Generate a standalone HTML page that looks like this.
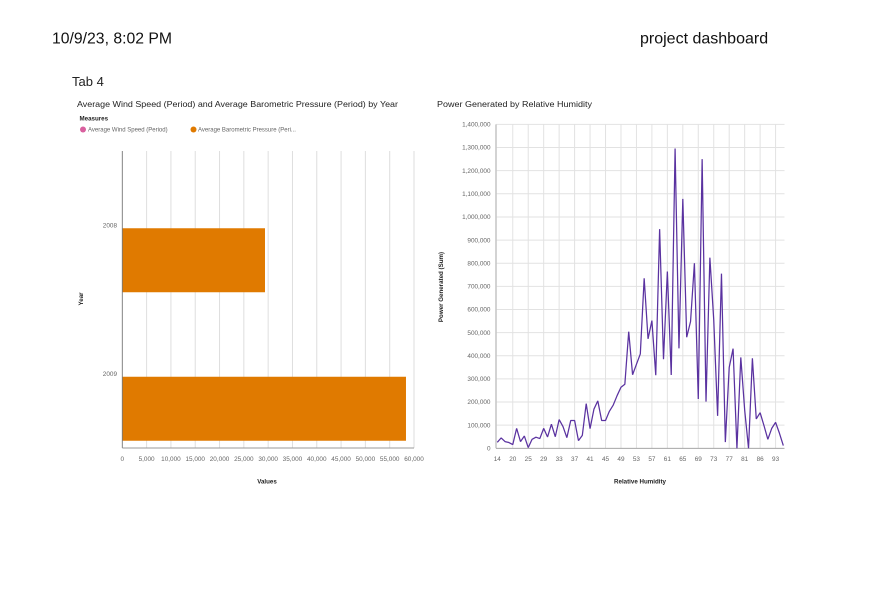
<!DOCTYPE html>
<html lang="en">
<head>
<meta charset="utf-8">
<title>project dashboard</title>
<style>
html,body{margin:0;padding:0;background:#fff;width:880px;height:609px;overflow:hidden}
svg{display:block;position:absolute;left:0;top:0}
text{font-family:"Liberation Sans",sans-serif}
.tick{font-size:6.4px;fill:#666}
.atitle{font-size:6.2px;fill:#222;font-weight:bold}
.ctitle{font-size:8.6px;fill:#222}
.leg{font-size:6px;fill:#666}
</style>
</head>
<body>
<svg id="page" width="880" height="609" viewBox="0 0 880 609" xmlns="http://www.w3.org/2000/svg">
  <text x="52" y="43.5" font-size="16" fill="#111" textLength="120" lengthAdjust="spacingAndGlyphs">10/9/23, 8:02 PM</text>
  <text x="640" y="43.5" font-size="16" fill="#111">project dashboard</text>
  <text x="72" y="86" font-size="13" fill="#222">Tab 4</text>

  <text class="ctitle" x="77" y="107" textLength="321" lengthAdjust="spacingAndGlyphs">Average Wind Speed (Period) and Average Barometric Pressure (Period) by Year</text>
  <text class="atitle" x="79.5" y="120.5">Measures</text>
  <circle cx="83" cy="129.5" r="3" fill="#d9609f"/>
  <text class="leg" x="88" y="131.7">Average Wind Speed (Period)</text>
  <circle cx="193.5" cy="129.5" r="3" fill="#e07a00"/>
  <text class="leg" x="198" y="131.7">Average Barometric Pressure (Peri...</text>
  <g id="bar-chart"></g>
  <text class="atitle" transform="translate(83,299) rotate(-90)" text-anchor="middle">Year</text>
  <text class="atitle" x="267" y="483.5" text-anchor="middle">Values</text>

  <text class="ctitle" x="437" y="107" textLength="155" lengthAdjust="spacingAndGlyphs">Power Generated by Relative Humidity</text>
  <g id="line-chart"></g>
  <text class="atitle" transform="translate(443,287) rotate(-90)" text-anchor="middle">Power Generated (Sum)</text>
  <text class="atitle" x="640" y="483.5" text-anchor="middle">Relative Humidity</text>
</svg>
<script>
// Bar chart data
const barYears = ['2008', '2009'];
const windSpeedValues = [9, 9];
const pressureValues = [29350, 58350];
const barTickValues = [0, 5000, 10000, 15000, 20000, 25000, 30000, 35000, 40000, 45000, 50000, 55000, 60000];

// Line chart data
const humidityCategories = [14,16,17,19,20,21,22,24,25,26,27,28,29,30,31,32,33,34,35,36,37,38,39,40,41,42,43,44,45,46,47,48,49,50,51,52,53,54,55,56,57,58,59,60,61,62,63,64,65,66,67,68,69,70,71,72,73,74,75,76,77,78,79,80,81,82,83,84,86,87,89,91,93,94,97];
const powerValues = [26000,45000,29000,25000,16000,86000,29000,53000,3000,39000,48000,42000,86000,49000,104000,50000,124000,94000,46000,120000,120000,33000,56000,193000,85000,169000,205000,120000,120000,160000,187000,228000,264000,277000,504000,318000,363000,408000,735000,473000,552000,316000,947000,385000,764000,317000,1296000,432000,1078000,480000,548000,800000,213000,1250000,202000,824000,555000,140000,755000,27000,349000,431000,0,393000,166000,0,389000,127000,154000,98000,39000,86000,112000,65000,12000];
const humidityTickLabels = [14,20,25,29,33,37,41,45,49,53,57,61,65,69,73,77,81,86,93];
const powerTickValues = [0,100000,200000,300000,400000,500000,600000,700000,800000,900000,1000000,1100000,1200000,1300000,1400000];

const SVGNS = 'http://www.w3.org/2000/svg';
function mk(parent, tag, attrs, txt) {
  const el = document.createElementNS(SVGNS, tag);
  for (const k in attrs) el.setAttribute(k, attrs[k]);
  if (txt !== undefined) el.textContent = txt;
  parent.appendChild(el);
  return el;
}
const fmt = v => v.toLocaleString('en-US');

// ---- bar chart ----
const barG = document.getElementById('bar-chart');
const B = {l: 122.3, r: 414, t: 151, b: 448};
const xVal = v => B.l + v / 60000 * (B.r - B.l);
const bandH = (B.b - B.t) / barYears.length;
const bandCenter = i => B.t + bandH * (i + 0.5);

barTickValues.forEach(v => {
  if (v > 0) {
    const gl = mk(barG, 'line', {x1: xVal(v), x2: xVal(v), y1: B.t, y2: B.b, stroke: '#dedede', 'stroke-width': 1});
    
    
  }
  const t = mk(barG, 'text', {x: xVal(v), y: 461, class: 'tick', 'text-anchor': 'middle'}, fmt(v));
  
  
});
barYears.forEach((year, i) => {
  const c = bandCenter(i);
  const wind = mk(barG, 'rect', {x: B.l, y: c - 67, width: Math.max(0, xVal(windSpeedValues[i]) - B.l), height: 64, fill: '#d9609f'});
  
  
  const bar = mk(barG, 'rect', {x: B.l, y: c + 3, width: xVal(pressureValues[i]) - B.l, height: 64, fill: '#e07a00'});
  
  
  const t = mk(barG, 'text', {x: 117, y: c + 2, class: 'tick', 'text-anchor': 'end'}, year);
  
  
});
const barYAxis = mk(barG, 'line', {x1: B.l, x2: B.l, y1: B.t, y2: B.b, stroke: '#777', 'stroke-width': 0.9});


const barXAxis = mk(barG, 'line', {x1: B.l, x2: B.r, y1: B.b, y2: B.b, stroke: '#999', 'stroke-width': 0.9});



// ---- line chart ----
const lineG = document.getElementById('line-chart');
const L = {l: 496, r: 784.5, t: 124.4, b: 448.3, x0: 497.3, step: 3.865};
const xIdx = i => L.x0 + i * L.step;
const yPow = v => L.b - v / 1400000 * (L.b - L.t);

powerTickValues.forEach(v => {
  if (v > 0) {
    const gl = mk(lineG, 'line', {x1: L.l, x2: L.r, y1: yPow(v), y2: yPow(v), stroke: '#e2e2e2', 'stroke-width': 1});
    
    
  }
  const t = mk(lineG, 'text', {x: 490.5, y: yPow(v) + 2.2, class: 'tick', 'text-anchor': 'end'}, fmt(v));
  
  
});
humidityTickLabels.forEach(label => {
  const i = humidityCategories.indexOf(label);
  if (i > 0) {
    const gl = mk(lineG, 'line', {x1: xIdx(i), x2: xIdx(i), y1: L.t, y2: L.b, stroke: '#e2e2e2', 'stroke-width': 1});
    
    
  }
  const t = mk(lineG, 'text', {x: xIdx(i), y: 461, class: 'tick', 'text-anchor': 'middle'}, String(label));
  
  
});
const lineYAxis = mk(lineG, 'line', {x1: L.l, x2: L.l, y1: L.t, y2: L.b, stroke: '#c8c8c8', 'stroke-width': 1.6});


const lineXAxis = mk(lineG, 'line', {x1: L.l, x2: L.r, y1: L.b, y2: L.b, stroke: '#999', 'stroke-width': 0.9});


const pts = powerValues.map((v, i) => xIdx(i).toFixed(2) + ',' + yPow(v).toFixed(2)).join(' ');
const series = mk(lineG, 'polyline', {points: pts, fill: 'none', stroke: '#5a32a0', 'stroke-width': 1.25, 'stroke-linejoin': 'bevel'});


</script>
</body>
</html>
